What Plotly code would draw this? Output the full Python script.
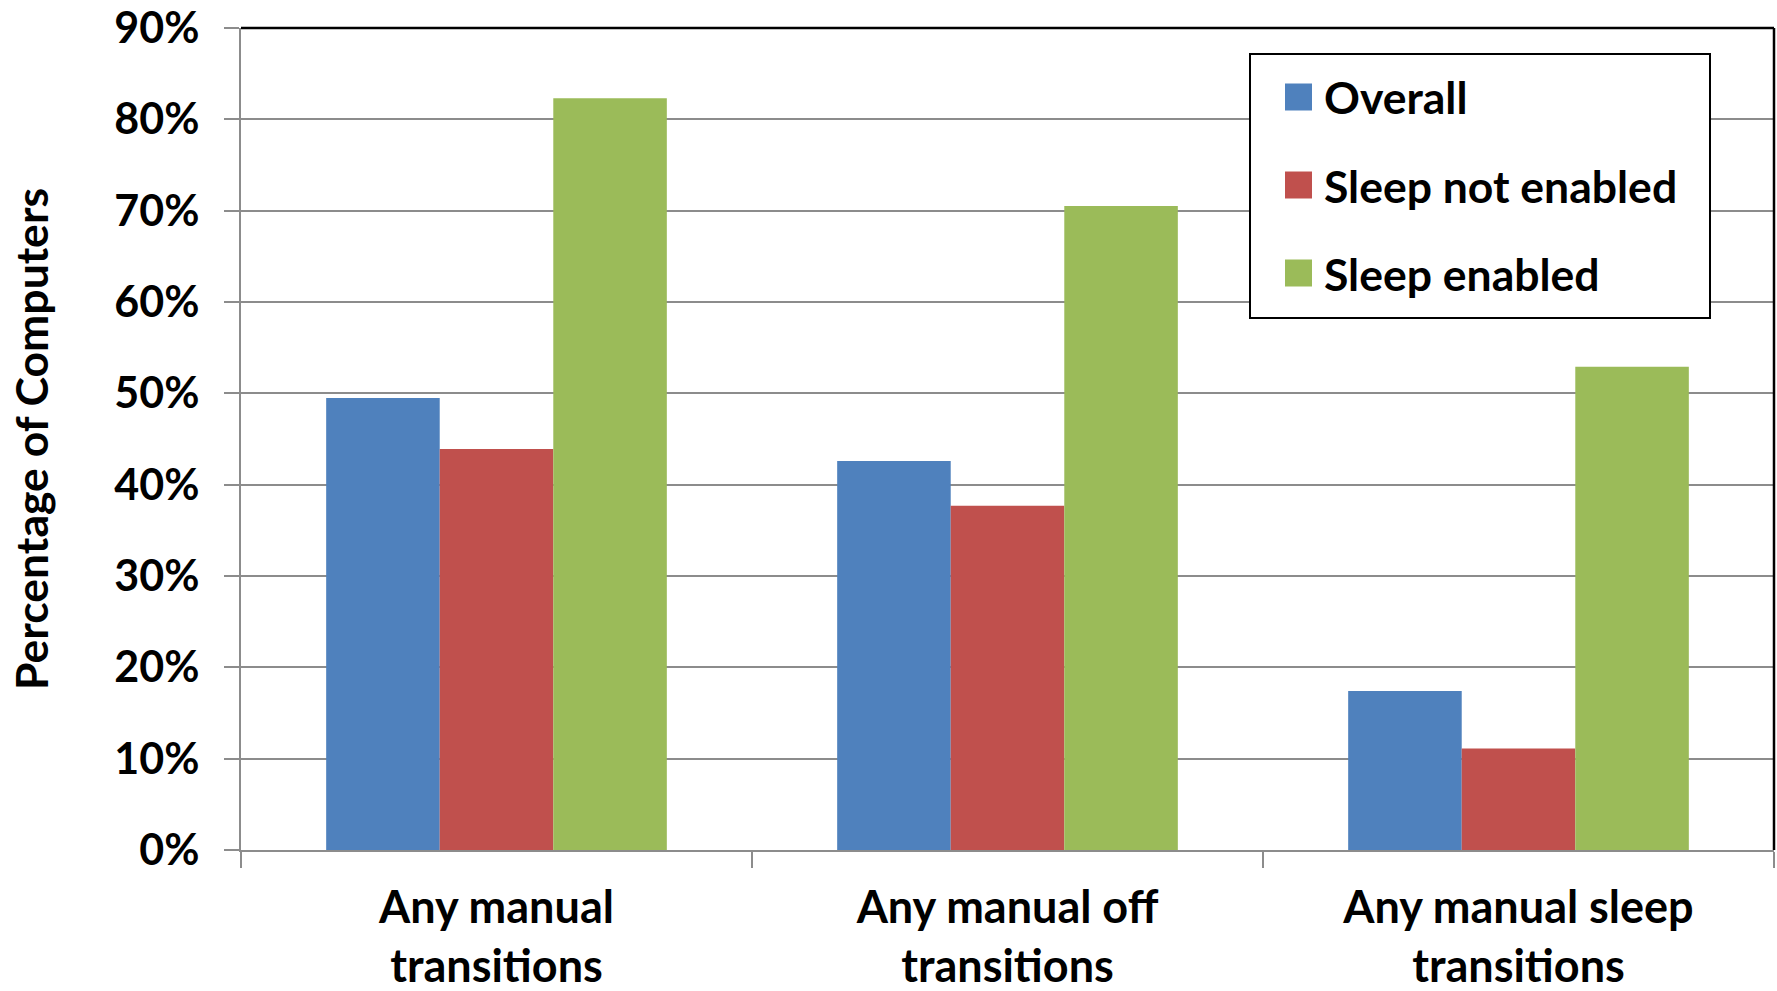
import plotly.graph_objects as go

# Share of computers with manual power transitions, by sleep configuration
categories = ["Any manual<br>transitions", "Any manual off<br>transitions", "Any manual sleep<br>transitions"]
overall = [49.5, 42.6, 17.4]
sleep_not_enabled = [43.9, 37.7, 11.1]
sleep_enabled = [82.3, 70.5, 52.9]

series_names = ["Overall", "Sleep not enabled", "Sleep enabled"]
series_values = [overall, sleep_not_enabled, sleep_enabled]
series_colors = ["#4F81BD", "#C0504D", "#9BBB59"]

y_ticks = [0, 10, 20, 30, 40, 50, 60, 70, 80, 90]
y_tick_text = [f"{v}%" for v in y_ticks]

FONT = "Lato"
FS_TICK = 43
FS_CAT = 45
FS_LEGEND = 44.5
FS_TITLE = 44.5

W, H = 1777, 991
L, R, T, B = 241, 3, 28, 141
plot_w = W - L - R
plot_h = H - T - B


def px_x(px):
    return (px - L) / plot_w


def px_y(py):
    return (H - B - py) / plot_h


def bold(size):
    return dict(family=FONT, size=size, color="black", weight="bold")


fig = go.Figure()
for name, vals, col in zip(series_names, series_values, series_colors):
    fig.add_trace(go.Bar(
        x=categories, y=vals, name=name,
        marker=dict(color=col, line=dict(width=0)),
        showlegend=False,
    ))

# Legend box drawn with shapes and text
shapes = [
    dict(type="rect", xref="paper", yref="paper",
         x0=px_x(1250), x1=px_x(1710), y0=px_y(318), y1=px_y(54),
         line=dict(color="black", width=2), fillcolor="white", layer="above"),
    # chart border along the top and right edges
    dict(type="line", xref="paper", yref="paper", x0=0, x1=1, y0=1, y1=1,
         line=dict(color="black", width=2.5), layer="above"),
    dict(type="line", xref="paper", yref="paper", x0=1, x1=1, y0=0, y1=1,
         line=dict(color="black", width=2.5), layer="above"),
]
annotations = []
row_centers = [97, 185, 273]
for name, col, cy in zip(series_names, series_colors, row_centers):
    shapes.append(dict(type="rect", xref="paper", yref="paper",
                       x0=px_x(1285), x1=px_x(1312), y0=px_y(cy + 13.5), y1=px_y(cy - 13.5),
                       line=dict(width=0), fillcolor=col, layer="above"))
    annotations.append(dict(xref="paper", yref="paper", x=px_x(1322), y=px_y(cy),
                            xanchor="left", yanchor="middle", text=name, showarrow=False,
                            font=bold(FS_LEGEND)))

fig.update_layout(
    width=W, height=H,
    margin=dict(l=L, r=R, t=T, b=B, pad=0),
    paper_bgcolor="white", plot_bgcolor="white",
    barmode="group", bargap=1.5 / 4.5, bargroupgap=0,
    font=bold(FS_TICK),
    shapes=shapes, annotations=annotations,
    xaxis=dict(
        automargin=False,
        showline=True, linecolor="#8C8C8C", linewidth=2,
        ticks="outside", tickson="boundaries", ticklen=16, tickcolor="#8C8C8C", tickwidth=1.5,
        tickfont=bold(FS_CAT),
        ticklabelstandoff=17,
        showgrid=False,
    ),
    yaxis=dict(
        automargin=False,
        range=[0, 90], tickvals=y_ticks, ticktext=y_tick_text,
        showline=True, linecolor="#8C8C8C", linewidth=2,
        ticks="outside", ticklen=15, tickcolor="#8C8C8C", tickwidth=2,
        showgrid=True, gridcolor="#8C8C8C", gridwidth=2,
        zeroline=False,
        tickfont=bold(FS_TICK),
        ticklabelstandoff=16,
        title=dict(text="Percentage of Computers", standoff=52, font=bold(FS_TITLE)),
    ),
)

fig.write_html("out.html")
